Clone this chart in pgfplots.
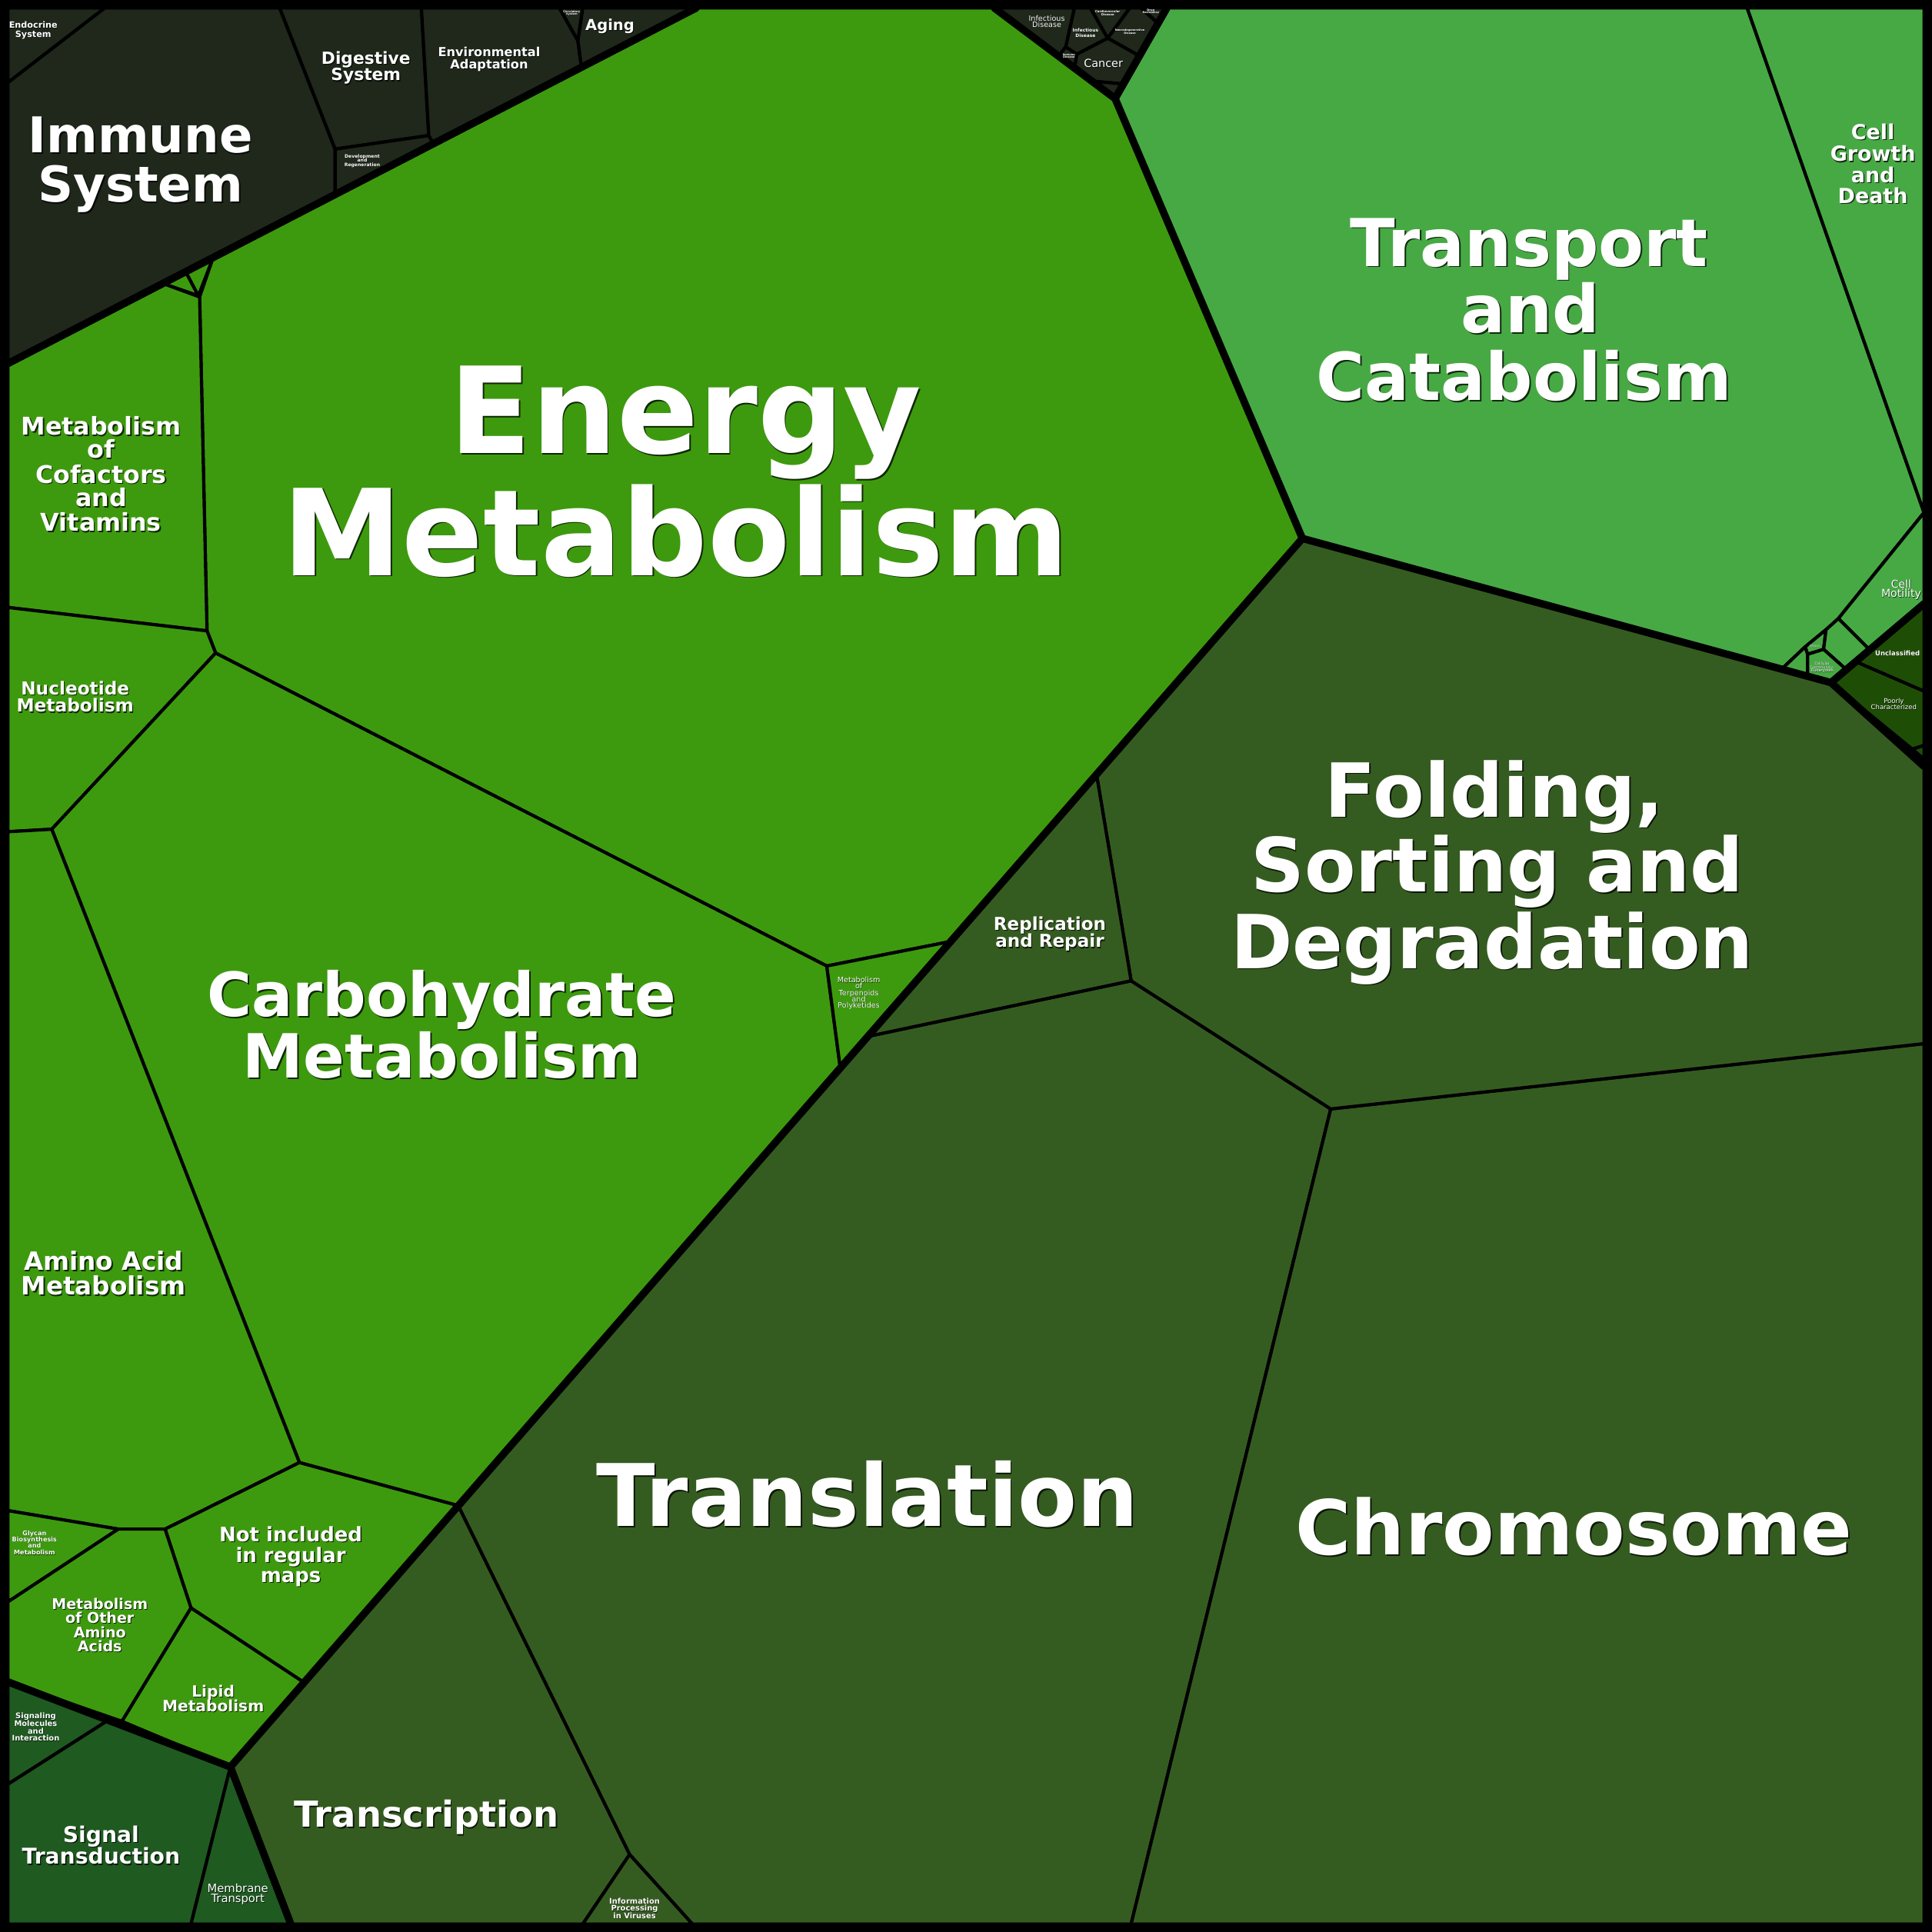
\documentclass[border=0pt]{standalone}
\usepackage{pgfplots}
\pgfplotsset{compat=1.18}
\usepackage{fontspec}
\setmainfont{DejaVu Sans}
\definecolor{cMet}{RGB}{61,154,14}
\definecolor{cCell}{RGB}{71,169,68}
\definecolor{cGen}{RGB}{53,92,32}
\definecolor{cOrg}{RGB}{31,40,27}
\definecolor{cEnv}{RGB}{31,90,33}
\definecolor{cUnc}{RGB}{30,78,6}
\tikzset{cell/.style={draw=black,line width=1.3pt,line join=round},
 thick/.style={draw=black,line width=3pt,line join=round,line cap=round},
 lbsh/.style={anchor=base,inner sep=0pt,text=black,opacity=0.75},
 lbw/.style={anchor=base,inner sep=0pt,text=white}}
\newcommand{\lb}[4]{\node[lbsh,font=\fontsize{#3}{#3}\selectfont\bfseries] at ([xshift={min(0.55,0.05*#3)*1pt},yshift={-min(0.55,0.05*#3)*1pt}]axis cs:#1,#2) {#4};\node[lbw,font=\fontsize{#3}{#3}\selectfont\bfseries] at (axis cs:#1,#2) {#4};}
\newcommand{\lr}[4]{\node[lbsh,font=\fontsize{#3}{#3}\selectfont] at ([xshift={min(0.55,0.05*#3)*1pt},yshift={-min(0.55,0.05*#3)*1pt}]axis cs:#1,#2) {#4};\node[lbw,font=\fontsize{#3}{#3}\selectfont] at (axis cs:#1,#2) {#4};}
\begin{document}
\begin{tikzpicture}
\begin{axis}[width=784pt,height=784pt,scale only axis,hide axis,
  xmin=0,xmax=1568,ymin=0,ymax=1568,y dir=reverse,clip=false]
% background / frame
\addplot[fill=black,draw=none] coordinates {(0,0)(1568,0)(1568,1568)(0,1568)} --cycle;
% ---- Organismal systems
\addplot[cell,fill=cOrg] coordinates {(6.5,6.5)(85,6.5)(6.5,67)} --cycle;
\addplot[cell,fill=cOrg] coordinates {(6.5,67)(85,6.5)(227,6.5)(272,121)(272,158)(6.5,295)} --cycle;
\addplot[cell,fill=cOrg] coordinates {(227,6.5)(342,6.5)(348,110)(272,121)} --cycle;
\addplot[cell,fill=cOrg] coordinates {(272,121)(348,110)(352,117)(272,158)} --cycle;
\addplot[cell,fill=cOrg] coordinates {(342,6.5)(454,6.5)(469,33)(472,55)(352,117)(348,110)} --cycle;
\addplot[cell,fill=cOrg] coordinates {(454,6.5)(473,6.5)(469,33)} --cycle;
\addplot[cell,fill=cOrg] coordinates {(473,6.5)(565,6.5)(472,55)(469,33)} --cycle;
% ---- Human diseases
\addplot[cell,fill=cOrg] coordinates {(807,6.5)(872,6.5)(865,38)(858,47)} --cycle;
\addplot[cell,fill=cOrg] coordinates {(858,47)(865,38)(874,44)(872,56)} --cycle;
\addplot[cell,fill=cOrg] coordinates {(872,6.5)(885,6.5)(899,31)(874,44)(865,38)} --cycle;
\addplot[cell,fill=cOrg] coordinates {(885,6.5)(917,6.5)(899,31)} --cycle;
\addplot[cell,fill=cOrg] coordinates {(917,6.5)(926,6.5)(940,19)(924,45)(899,31)} --cycle;
\addplot[cell,fill=cOrg] coordinates {(926,6.5)(947,6.5)(940,19)} --cycle;
\addplot[cell,fill=cOrg] coordinates {(874,44)(899,31)(924,45)(910,68)(888,66)(872,56)} --cycle;
\addplot[cell,fill=cOrg] coordinates {(888,66)(910,68)(905,80)} --cycle;
% ---- Metabolism
\addplot[cell,fill=cMet] coordinates {(565,6.5)(807,6.5)(905,80)(1057,437)(772,764)(671,784)(175,530)(168,512)(162,241)(173,209)} --cycle;
\addplot[cell,fill=cMet] coordinates {(132,230)(151,221)(161,240)} --cycle;
\addplot[cell,fill=cMet] coordinates {(151,221)(173,209)(161,240)} --cycle;
\addplot[cell,fill=cMet] coordinates {(6.5,295)(132,230)(162,241)(168,512)(6.5,493)} --cycle;
\addplot[cell,fill=cMet] coordinates {(6.5,493)(168,512)(175,530)(42,673)(6.5,675)} --cycle;
\addplot[cell,fill=cMet] coordinates {(175,530)(671,784)(682,867)(372,1222)(243,1187)(42,673)} --cycle;
\addplot[cell,fill=cMet] coordinates {(671,784)(772,764)(682,867)} --cycle;
\addplot[cell,fill=cMet] coordinates {(6.5,675)(42,673)(243,1187)(134,1241)(96,1241)(6.5,1226)} --cycle;
\addplot[cell,fill=cMet] coordinates {(243,1187)(372,1222)(246,1365)(155,1305)(134,1241)} --cycle;
\addplot[cell,fill=cMet] coordinates {(6.5,1226)(96,1241)(6.5,1300)} --cycle;
\addplot[cell,fill=cMet] coordinates {(6.5,1300)(96,1241)(134,1241)(155,1305)(99,1397)(6.5,1365)} --cycle;
\addplot[cell,fill=cMet] coordinates {(155,1305)(246,1365)(187,1434)(99,1397)} --cycle;
% ---- Environmental information
\addplot[cell,fill=cEnv] coordinates {(6.5,1365)(88,1396)(6.5,1448)} --cycle;
\addplot[cell,fill=cEnv] coordinates {(6.5,1448)(88,1396)(187,1434)(155,1561.5)(6.5,1561.5)} --cycle;
\addplot[cell,fill=cEnv] coordinates {(187,1434)(236,1561.5)(155,1561.5)} --cycle;
% ---- Genetic information
\addplot[cell,fill=cGen] coordinates {(187,1434)(372,1222)(511,1505)(473,1561.5)(236,1561.5)} --cycle;
\addplot[cell,fill=cGen] coordinates {(511,1505)(562,1561.5)(473,1561.5)} --cycle;
\addplot[cell,fill=cGen] coordinates {(372,1222)(705,841)(918,796)(1080,900)(918,1561.5)(562,1561.5)(511,1505)} --cycle;
\addplot[cell,fill=cGen] coordinates {(1080,900)(1561.5,847)(1561.5,1561.5)(918,1561.5)} --cycle;
\addplot[cell,fill=cGen] coordinates {(890,629)(1057,437)(1486,554)(1561.5,622)(1561.5,847)(1080,900)(918,796)} --cycle;
\addplot[cell,fill=cGen] coordinates {(772,764)(890,629)(918,796)(705,841)} --cycle;
% ---- Cellular processes
\addplot[cell,fill=cCell] coordinates {(905,80)(947,6.5)(1418,6.5)(1561.5,416)(1492,502)(1482,511)(1465,525)(1446,543)(1057,437)} --cycle;
\addplot[cell,fill=cCell] coordinates {(1418,6.5)(1561.5,6.5)(1561.5,416)} --cycle;
\addplot[cell,fill=cCell] coordinates {(1561.5,416)(1561.5,490)(1517,527)(1492,502)} --cycle;
\addplot[cell,fill=cCell] coordinates {(1465,525)(1482,511)(1480,527)(1467,531)} --cycle;
\addplot[cell,fill=cCell] coordinates {(1482,511)(1492,502)(1517,527)(1498,543)(1480,527)} --cycle;
\addplot[cell,fill=cCell] coordinates {(1446,543)(1465,525)(1467,531)(1467,549)} --cycle;
\addplot[cell,fill=cCell] coordinates {(1467,531)(1480,527)(1498,543)(1486,554)(1467,549)} --cycle;
% ---- Unclassified
\addplot[cell,fill=cUnc] coordinates {(1506,537)(1561.5,491)(1561.5,561)} --cycle;
\addplot[cell,fill=cUnc] coordinates {(1506,537)(1561.5,561)(1561.5,605)(1552,608)(1486,554)} --cycle;
\addplot[cell,fill=cUnc] coordinates {(1552,608)(1561.5,605)(1561.5,616)} --cycle;
% ---- group boundaries
\addplot[thick] coordinates {(6.5,295)(565,6.5)};
\addplot[thick] coordinates {(807,6.5)(905,80)(947,6.5)};
\addplot[thick] coordinates {(905,80)(1057,437)};
\addplot[thick] coordinates {(187,1434)(1057,437)};
\addplot[thick] coordinates {(1057,437)(1486,554)(1561.5,490)};
\addplot[thick] coordinates {(1486,554)(1561.5,622)};
\addplot[thick] coordinates {(6.5,1365)(187,1434)(236,1561.5)};
% ---- labels
\lb{556.5}{368}{48.7}{Energy}
\lb{548.5}{467}{48.7}{Metabolism}
\lb{1241}{216}{26.8}{Transport}
\lb{1242}{270}{26.8}{and}
\lb{1237}{325}{26.8}{Catabolism}
\lb{1213}{663}{30.3}{Folding,}
\lb{1215}{724}{30.3}{Sorting and}
\lb{1211}{786}{30.3}{Degradation}
\lb{704}{1239}{35}{Translation}
\lb{1277.5}{1262}{30.7}{Chromosome}
\lb{358.5}{825}{24.7}{Carbohydrate}
\lb{359}{875}{24.7}{Metabolism}
\lb{346}{1483}{14.5}{Transcription}
\lb{114}{124}{20}{Immune}
\lb{114}{164}{20}{System}
\lb{297}{52}{6.8}{Digestive}
\lb{297}{65.5}{6.8}{System}
\lb{397}{46}{5.05}{Environmental}
\lb{397}{56}{5.05}{Adaptation}
\lb{495}{24.5}{6.1}{Aging}
\lb{27}{23}{3.5}{Endocrine}
\lb{27}{30}{3.5}{System}
\lb{294}{128}{1.9}{Development}
\lb{294}{131.5}{1.9}{and}
\lb{294}{135}{1.9}{Regeneration}
\lb{464}{10}{1.1}{Circulatory}
\lb{464}{12}{1.1}{System}
\lb{82}{353}{9.9}{Metabolism}
\lb{82}{372}{9.9}{of}
\lb{82}{392}{9.9}{Cofactors}
\lb{82}{411}{9.9}{and}
\lb{82}{431}{9.9}{Vitamins}
\lb{61}{564}{7.25}{Nucleotide}
\lb{61}{578}{7.25}{Metabolism}
\lb{84}{1031}{10.2}{Amino Acid}
\lb{84}{1051}{10.2}{Metabolism}
\lb{236}{1251}{8.1}{Not included}
\lb{236}{1268}{8.1}{in regular}
\lb{236}{1284}{8.1}{maps}
\lb{28}{1246}{2.55}{Glycan}
\lb{28}{1251}{2.55}{Biosynthesis}
\lb{28}{1256}{2.55}{and}
\lb{28}{1262}{2.55}{Metabolism}
\lb{81}{1306}{5.95}{Metabolism}
\lb{81}{1317.5}{5.95}{of Other}
\lb{81}{1329}{5.95}{Amino}
\lb{81}{1340.5}{5.95}{Acids}
\lb{173}{1377}{6.3}{Lipid}
\lb{173}{1389}{6.3}{Metabolism}
\lb{29}{1395}{3.1}{Signaling}
\lb{29}{1401}{3.1}{Molecules}
\lb{29}{1407}{3.1}{and}
\lb{29}{1413}{3.1}{Interaction}
\lb{82}{1495}{8.8}{Signal}
\lb{82}{1513}{8.8}{Transduction}
\lr{193}{1536}{4.6}{Membrane}
\lr{193}{1544}{4.6}{Transport}
\lb{852}{755}{7.2}{Replication}
\lb{852}{769}{7.2}{and Repair}
\lr{697}{797.5}{3}{Metabolism}
\lr{697}{802.5}{3}{of}
\lr{697}{808}{3}{Terpenoids}
\lr{697}{813}{3}{and}
\lr{697}{818}{3}{Polyketides}
\lb{515}{1545}{3.1}{Information}
\lb{515}{1551}{3.1}{Processing}
\lb{515}{1557}{3.1}{in Viruses}
\lb{1520}{113}{8.4}{Cell}
\lb{1520}{131}{8.4}{Growth}
\lb{1520}{148}{8.4}{and}
\lb{1520}{165}{8.4}{Death}
\lr{1543}{477}{4.4}{Cell}
\lr{1543}{485}{4.4}{Motility}
\lb{1540}{532}{2.66}{Unclassified}
\lr{1537}{571}{2.65}{Poorly}
\lr{1537}{576}{2.65}{Characterized}
\lr{1473}{525}{1.3}{Others}
\lr{1479}{539.5}{1.6}{Cellular}
\lr{1479}{542.5}{1.6}{Community-}
\lr{1479}{545.5}{1.6}{Eukaryotes}
\lr{895.5}{54.5}{4.5}{Cancer}
\lr{849.6}{17}{3}{Infectious}
\lr{849.6}{22}{3}{Disease}
\lb{881}{26}{1.86}{Infectious}
\lb{881}{30}{1.86}{Disease}
\lb{899}{10.5}{1.2}{Cardiovascular}
\lb{899}{12.5}{1.2}{Disease}
\lb{917}{25.5}{1.1}{Neurodegenerative}
\lb{917}{27.5}{1.1}{Disease}
\lb{934}{9}{1.1}{Drug}
\lb{934}{11}{1.1}{Resistance}
\lb{867.5}{45}{1.1}{Immune}
\lb{867.5}{47}{1.1}{Disease}
\end{axis}
\end{tikzpicture}
\end{document}
